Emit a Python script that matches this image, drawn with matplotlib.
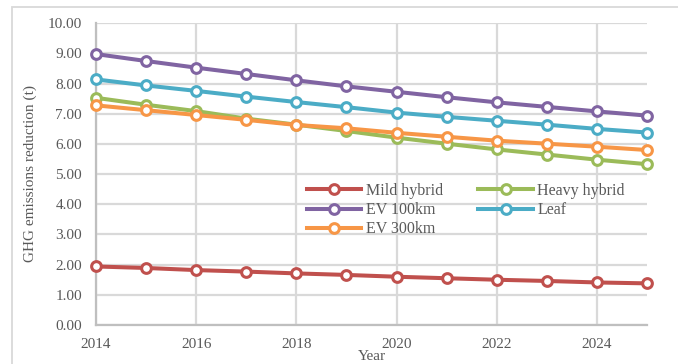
import matplotlib
matplotlib.use("Agg")
import matplotlib.pyplot as plt
from matplotlib.patches import Rectangle
from matplotlib.ticker import FormatStrFormatter, MultipleLocator

years = list(range(2014, 2026))

mild_hybrid = [1.94, 1.89, 1.82, 1.77, 1.71, 1.66, 1.60, 1.55, 1.50, 1.46, 1.41, 1.38]
heavy_hybrid = [7.53, 7.30, 7.09, 6.84, 6.64, 6.43, 6.21, 6.01, 5.82, 5.65, 5.48, 5.33]
ev_100km = [8.98, 8.75, 8.53, 8.32, 8.11, 7.91, 7.73, 7.55, 7.38, 7.23, 7.08, 6.94]
leaf = [8.14, 7.94, 7.76, 7.57, 7.39, 7.22, 7.04, 6.90, 6.77, 6.64, 6.50, 6.38]
ev_300km = [7.28, 7.12, 6.96, 6.80, 6.63, 6.52, 6.37, 6.24, 6.11, 6.01, 5.91, 5.80]

series = [
    ("Mild hybrid", mild_hybrid, "#C0504D"),
    ("Heavy hybrid", heavy_hybrid, "#9BBB59"),
    ("EV 100km", ev_100km, "#8064A2"),
    ("Leaf", leaf, "#4BACC6"),
    ("EV 300km", ev_300km, "#F79646"),
]

TEXT = "#595959"
GRID = "#d9d9d9"
plt.rcParams["font.family"] = ["Liberation Serif", "DejaVu Serif"]
plt.rcParams["font.size"] = 11

W, H = 678, 364
fig = plt.figure(figsize=(W / 100, H / 100), dpi=100)

# outer chart border (runs off the right and bottom edges)
fig.add_artist(Rectangle((12 / W, -0.1), 1.2, 1 - 7 / H + 0.1,
                         transform=fig.transFigure, fill=False,
                         edgecolor=GRID, linewidth=1.3))

ax = fig.add_axes([96 / W, 1 - 325 / H, 551 / W, (325 - 23.3) / H])

handles = {}
for name, vals, col in series:
    (ln,) = ax.plot(years, vals, color=col, linewidth=2.9, marker="o",
                    markersize=7, markerfacecolor="white",
                    markeredgecolor=col, markeredgewidth=2.2,
                    clip_on=False, zorder=3, label=name)
    handles[name] = ln

ax.set_xlim(2014, 2025)
ax.set_ylim(0, 10)
ax.xaxis.set_major_locator(MultipleLocator(2))
ax.yaxis.set_major_locator(MultipleLocator(1))
ax.yaxis.set_major_formatter(FormatStrFormatter("%.2f"))
ax.grid(True, color=GRID, linewidth=1.6)
ax.set_axisbelow(True)
for s in ("top", "right"):
    ax.spines[s].set_visible(False)
for s in ("left", "bottom"):
    ax.spines[s].set_color("#bfbfbf")
    ax.spines[s].set_linewidth(1.6)
ax.tick_params(length=0, colors=TEXT, labelsize=11)
ax.tick_params(axis="y", pad=10)
ax.tick_params(axis="x", pad=9)

order = ["Mild hybrid", "EV 100km", "EV 300km", "Heavy hybrid", "Leaf"]
leg = ax.legend([handles[n] for n in order], order, ncol=2, frameon=False,
                loc="upper left", bbox_to_anchor=(307 / W, 1 - 183 / H),
                bbox_transform=fig.transFigure, borderpad=0, borderaxespad=0,
                handlelength=3.4, handletextpad=0.3, columnspacing=2.2,
                labelspacing=0.2, fontsize=11.5)
for t in leg.get_texts():
    t.set_color(TEXT)

fig.text(30 / W, 1 - 174 / H, "GHG emissions reduction (t)", rotation=90,
         ha="center", va="center", color=TEXT, fontsize=11)
fig.text(372 / W, 1 - 356 / H, "Year", ha="center", va="center",
         color=TEXT, fontsize=11)

fig.savefig("out.png", dpi=100)
